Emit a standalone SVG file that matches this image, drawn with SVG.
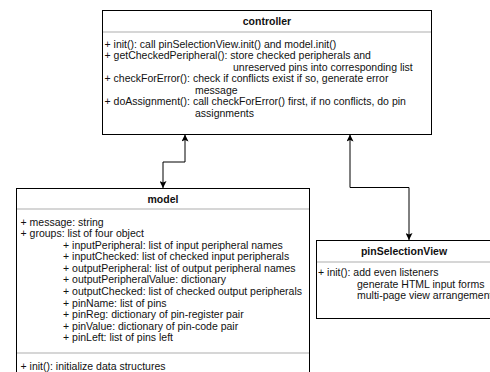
<svg xmlns="http://www.w3.org/2000/svg" width="490" height="372" viewBox="0 0 490 372">
<defs>
<marker id="arr" viewBox="0 0 10 10" refX="10" refY="5" markerWidth="7" markerHeight="7" orient="auto-start-reverse" markerUnits="userSpaceOnUse">
<path d="M0,0 L10,5 L0,10 L2,5 Z" fill="#000"/>
</marker>
</defs>
<style>
.box{fill:#fff;stroke:#000;stroke-width:1}
.div{stroke:#c8c8c8;stroke-width:1.5}
.t{font-family:"Liberation Sans",Arial,sans-serif;font-size:10.5px;fill:#111}
.h{font-family:"Liberation Sans",Arial,sans-serif;font-size:10.5px;font-weight:bold;fill:#111;text-anchor:middle}
.c{fill:none;stroke:#000;stroke-width:1;marker-start:url(#arr);marker-end:url(#arr)}
</style>
<rect width="490" height="372" fill="#fff"/>
<g id="controller">
<rect class="box" x="102.5" y="10.5" width="329" height="124"/>
<line class="div" x1="103" y1="32" x2="431" y2="32"/>
<text class="h" x="267" y="24.5">controller</text>
<text class="t" x="104.5" y="47.5">+ init(): call pinSelectionView.init() and model.init()</text>
<text class="t" x="104.5" y="59">+ getCheckedPeripheral(): store checked peripherals and</text>
<text class="t" x="233" y="70.5">unreserved pins into corresponding list</text>
<text class="t" x="104.5" y="82">+ checkForError(): check if conflicts exist if so, generate error</text>
<text class="t" x="195" y="93.5">message</text>
<text class="t" x="104.5" y="105">+ doAssignment(): call checkForError() first, if no conflicts, do pin</text>
<text class="t" x="195" y="116.5">assignments</text>
</g>
<g id="model">
<rect class="box" x="16.5" y="188.5" width="293" height="200"/>
<line class="div" x1="17" y1="209" x2="309" y2="209"/>
<line class="div" x1="17" y1="353" x2="309" y2="353"/>
<text class="h" x="163" y="202.5">model</text>
<text class="t" x="20.5" y="225.5">+ message: string</text>
<text class="t" x="20.5" y="237">+ groups: list of four object</text>
<text class="t" x="63" y="248.6">+ inputPeripheral: list of input peripheral names</text>
<text class="t" x="63" y="260.2">+ inputChecked: list of checked input peripherals</text>
<text class="t" x="63" y="271.8">+ outputPeripheral: list of output peripheral names</text>
<text class="t" x="63" y="283.4">+ outputPeripheralValue: dictionary</text>
<text class="t" x="63" y="295">+ outputChecked: list of checked output peripherals</text>
<text class="t" x="63" y="306.6">+ pinName: list of pins</text>
<text class="t" x="63" y="318.2">+ pinReg: dictionary of pin-register pair</text>
<text class="t" x="63" y="329.8">+ pinValue: dictionary of pin-code pair</text>
<text class="t" x="63" y="341.4">+ pinLeft: list of pins left</text>
<text class="t" x="20.5" y="369.5">+ init(): initialize data structures</text>
</g>
<g id="pinSelectionView">
<rect class="box" x="316.5" y="240.5" width="176" height="78"/>
<line class="div" x1="317" y1="262" x2="492" y2="262"/>
<text class="h" x="404" y="255">pinSelectionView</text>
<text class="t" x="318" y="276">+ init(): add even listeners</text>
<text class="t" x="357" y="287.5">generate HTML input forms</text>
<text class="t" x="357" y="299">multi-page view arrangement</text>
</g>
<g id="connectors">
<path class="c" d="M185,134.5 V162 H163 V188"/>
<path class="c" d="M350,134.5 V187.5 H409 V240"/>
</g>
</svg>
